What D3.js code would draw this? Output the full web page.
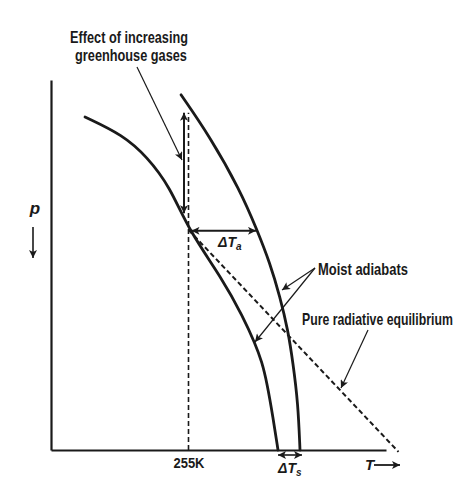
<!DOCTYPE html>
<html>
<head>
<meta charset="utf-8">
<script src="https://cdn.jsdelivr.net/npm/d3@7"></script>
<style>
body{margin:0;background:#fff;}
svg{display:block;}
text{font-family:"Liberation Sans","Arial",sans-serif;font-weight:bold;fill:#1a1a1a;}
</style>
</head>
<body>
<script>
// temperature (K) and pressure (hPa)
var leftP  = [280, 319, 366, 431, 524, 632, 712, 769, 810, 855, 929, 1000];
var leftT  = [213.6, 228.8, 238.4, 247.6, 255, 268.8, 276.8, 281.6, 284.4, 286.4, 288.8, 290.8];
var rightP = [232, 323, 438, 524, 596, 669, 741, 812, 898, 1000];
var rightT = [252, 263.6, 275.6, 282.4, 287.6, 291.6, 294.8, 296.8, 298.8, 299.6];
var radT = [255, 339];
var radP = [524, 1004];
var effectiveT = 255;
var tickLabels = ["255K"];
var shiftT = 253.2, shiftP = [271, 488];

var WIDTH = 470, HEIGHT = 480;
var _svg, _x, _y;

var zip = function(ts, ps){
	return ts.map(function(t, i){ return [t, ps[i]]; });
};

// squeeze a text horizontally so it looks like the condensed face of the original
var squeeze = function(t, x, y, len){
	var w = t.node().getComputedTextLength();
	t.attr('transform', 'translate(' + x + ',' + y + ') scale(' + Math.min(1, len / w) + ',1)');
};

var createChart = function(){
	_svg = d3.select('body').append('svg')
		.attr('width', WIDTH)
		.attr('height', HEIGHT);

	_x = d3.scaleLinear().domain([200, 334]).range([51, 386]);
	_y = d3.scaleLinear().domain([200, 1000]).range([80, 450]);

	var defs = _svg.append('defs');
	defs.append('marker').attr('id', 'head')
		.attr('viewBox', '0 0 10 10').attr('refX', 10).attr('refY', 5)
		.attr('markerUnits', 'userSpaceOnUse')
		.attr('markerWidth', 9).attr('markerHeight', 8)
		.attr('orient', 'auto-start-reverse')
		.append('path').attr('d', 'M0,0L10,5L0,10L2.5,5z').attr('fill', '#1a1a1a');

	// axes
	var xAxis = _svg.append('g').attr('transform', 'translate(0,' + _y(1000) + ')')
		.call(d3.axisBottom(_x).tickValues([effectiveT]).tickSize(0).tickSizeOuter(0)
			.tickFormat(function(d, i){ return tickLabels[i]; }));
	xAxis.select('.domain').attr('stroke', '#1a1a1a').attr('stroke-width', 2.2);
	xAxis.selectAll('text').attr('dy', '1.1em').style('font-size', '14px').attr('fill', '#1a1a1a')
		.each(function(){ squeeze(d3.select(this), 0, 0, 31); });

	var yAxis = _svg.append('g').attr('transform', 'translate(' + _x(200) + ',0)')
		.call(d3.axisLeft(_y).tickValues([]).tickSizeOuter(0));
	yAxis.select('.domain').attr('stroke', '#1a1a1a').attr('stroke-width', 2.2);

	var line = d3.line()
		.x(function(d){ return _x(d[0]); })
		.y(function(d){ return _y(d[1]); });

	// dashed lines
	_svg.append('path').attr('d', line([[effectiveT, 1000], [effectiveT, shiftP[0]]]))
		.attr('fill', 'none').attr('stroke', '#1a1a1a').attr('stroke-width', 1.6)
		.attr('stroke-dasharray', '5,3');
	_svg.append('path').attr('d', line(zip(radT, radP)))
		.attr('fill', 'none').attr('stroke', '#1a1a1a').attr('stroke-width', 2)
		.attr('stroke-dasharray', '5,3');

	// moist adiabats
	var curve = d3.line()
		.x(function(d){ return _x(d[0]); })
		.y(function(d){ return _y(d[1]); })
		.curve(d3.curveBasis);
	_svg.selectAll('.adiabat').data([zip(leftT, leftP), zip(rightT, rightP)])
		.enter().append('path').classed('adiabat', true)
		.attr('d', curve)
		.attr('fill', 'none').attr('stroke', '#1a1a1a').attr('stroke-width', 2.8)
		.attr('stroke-linecap', 'round');

	// arrows
	var arrow = function(x1, y1, x2, y2, w, both){
		_svg.append('line').attr('x1', x1).attr('y1', y1).attr('x2', x2).attr('y2', y2)
			.attr('stroke', '#1a1a1a').attr('stroke-width', w)
			.attr('marker-end', 'url(#head)')
			.attr('marker-start', both ? 'url(#head)' : null);
	};
	arrow(_x(shiftT), _y(shiftP[0]), _x(shiftT), _y(shiftP[1]), 2, true);
	arrow(_x(leftT[4]) + 3, _y(leftP[4]) + 1, _x(rightT[3]) - 1, _y(rightP[3]) + 1, 2, true);
	arrow(_x(leftT[leftT.length - 1]), _y(1000) + 5, _x(rightT[rightT.length - 1]) + 2, _y(1000) + 5, 1.6, true);

	// annotation pointers
	arrow(137, 67, 182, 160, 1.2, false);
	arrow(315, 268, 282, 290, 1.2, false);
	arrow(315, 268, 255, 342, 1.2, false);
	arrow(368, 330, 341, 388, 1.2, false);
	arrow(33, 227, 33, 258, 1.6, false);
	arrow(374, 465, 400, 465, 1.8, false);

	// labels
	var label = function(x, y, s, size, anchor, len){
		var t = _svg.append('text').attr('x', len ? 0 : x).attr('y', len ? 0 : y)
			.attr('text-anchor', anchor || 'start')
			.style('font-size', size + 'px').text(s);
		if (len) squeeze(t, x, y, len);
		return t;
	};
	label(129, 43, 'Effect of increasing', 16, 'middle', 118);
	label(131, 61, 'greenhouse gases', 16, 'middle', 112);
	label(318, 275, 'Moist adiabats', 16, 'start', 90);
	label(302, 325, 'Pure radiative equilibrium', 16, 'start', 151);
	label(35, 214, 'p', 17, 'middle').style('font-style', 'italic');
	label(365, 470, 'T', 15).style('font-style', 'italic');

	var ta = label(218, 247, 'ΔT', 14).style('font-style', 'italic');
	ta.append('tspan').attr('dy', 3).style('font-size', '10px').text('a');
	var ts = label(278, 473, 'ΔT', 14).style('font-style', 'italic');
	ts.append('tspan').attr('dy', 3).style('font-size', '10px').text('s');
};

createChart();
</script>
</body>
</html>
